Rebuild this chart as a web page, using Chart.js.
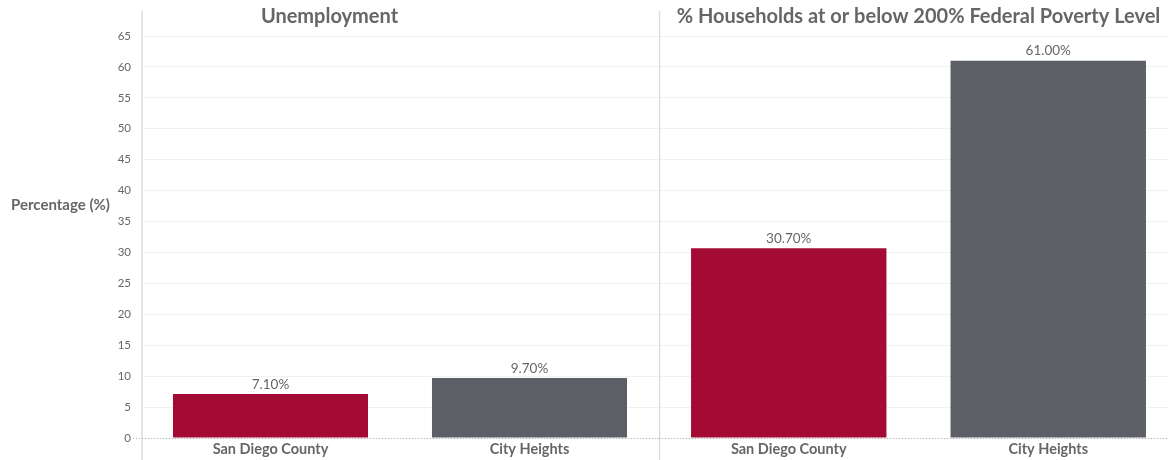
<!DOCTYPE html>
<html>
<head>
<meta charset="utf-8">
<script src="https://cdn.jsdelivr.net/npm/chart.js@4"></script>
<style>
  body { margin: 0; background: #fff; }
  #wrap { position: relative; width: 1168px; height: 460px; overflow: hidden; }
  #c1 { position: absolute; left: 0; top: 0; }
  #c2 { position: absolute; left: 659px; top: 0; }
</style>
</head>
<body>
<div id="wrap">
  <canvas id="c1" width="659" height="460"></canvas>
  <canvas id="c2" width="519" height="460"></canvas>
</div>
<script>
// data
const categories = ['San Diego County', 'City Heights'];
const unemployment = [7.1, 9.7];
const poverty = [30.7, 61.0];
const barColors = ['#a30b35', '#5c5f66'];
const yMax = 65;
const yStep = 5;
const titles = ['Unemployment', '% Households at or below 200% Federal Poverty Level'];
const yAxisLabel = 'Percentage (%)';

const FONT = 'Lato, "Noto Sans", sans-serif';
const TEXT = '#666';

// value labels, baseline dots and the vertical panel line
const decorations = {
    id: 'decorations',
    beforeDatasetsDraw(chart, args, opts) {
        const { ctx, chartArea, scales } = chart;
        const y0 = scales.y.getPixelForValue(0);
        ctx.save();
        ctx.strokeStyle = '#dcdcdc';
        ctx.lineWidth = 1.5;
        ctx.beginPath();
        ctx.moveTo(chartArea.left + opts.lineOffset, 11);
        ctx.lineTo(chartArea.left + opts.lineOffset, chart.height);
        ctx.stroke();

        ctx.strokeStyle = '#b5b5b5';
        ctx.lineWidth = 1;
        ctx.setLineDash([1, 2]);
        ctx.beginPath();
        ctx.moveTo(chartArea.left - opts.dotsLeft, y0 + 0.5);
        ctx.lineTo(chart.width, y0 + 0.5);
        ctx.stroke();
        ctx.restore();
    },
    afterDatasetsDraw(chart, args, opts) {
        const { ctx } = chart;
        const meta = chart.getDatasetMeta(0);
        const values = chart.data.datasets[0].data;
        ctx.save();
        ctx.font = '13.5px ' + FONT;
        ctx.fillStyle = TEXT;
        ctx.textAlign = 'center';
        ctx.textBaseline = 'bottom';
        meta.data.forEach((bar, i) => {
            ctx.fillText(values[i].toFixed(2) + '%', bar.x, bar.y - 3);
        });
        if (opts.axisLabel) {
            ctx.font = 'bold 15px ' + FONT;
            ctx.textAlign = 'left';
            ctx.textBaseline = 'middle';
            ctx.fillText(opts.axisLabel, 11, 205);
        }
        ctx.restore();
    }
};

function buildChart(id, title, values, withTicks) {
    const ctx = document.getElementById(id).getContext('2d');
    return new Chart(ctx, {
        type: 'bar',
        data: {
            labels: categories,
            datasets: [{
                data: values,
                backgroundColor: barColors,
                categoryPercentage: 1,
                barPercentage: 0.753
            }]
        },
        options: {
            responsive: false,
            animation: false,
            layout: { padding: 0 },
            plugins: {
                legend: { display: false },
                tooltip: { enabled: false },
                title: {
                    display: true,
                    text: title,
                    color: TEXT,
                    font: { family: FONT, size: 20, weight: 'bold' },
                    padding: { top: 5, bottom: 7 }
                },
                decorations: {
                    lineOffset: withTicks ? 1 : 0.5,
                    dotsLeft: withTicks ? 8 : 0,
                    axisLabel: withTicks ? yAxisLabel : null
                }
            },
            scales: {
                x: {
                    grid: { display: false, drawTicks: false },
                    border: { display: false },
                    ticks: {
                        color: TEXT,
                        padding: 3,
                        font: { family: FONT, size: 14.5, weight: 'bold' }
                    },
                    afterFit: (scale) => { scale.height = 22; }
                },
                y: {
                    min: 0,
                    max: yMax,
                    grid: { color: '#f1f1f1', drawTicks: false },
                    border: { display: false },
                    ticks: {
                        display: withTicks,
                        stepSize: yStep,
                        color: TEXT,
                        padding: 10,
                        font: { family: FONT, size: 11.5 }
                    },
                    afterFit: (scale) => { scale.width = withTicks ? 141 : 0; }
                }
            }
        },
        plugins: [decorations]
    });
}

buildChart('c1', titles[0], unemployment, true);
buildChart('c2', titles[1], poverty, false);
</script>
</body>
</html>
